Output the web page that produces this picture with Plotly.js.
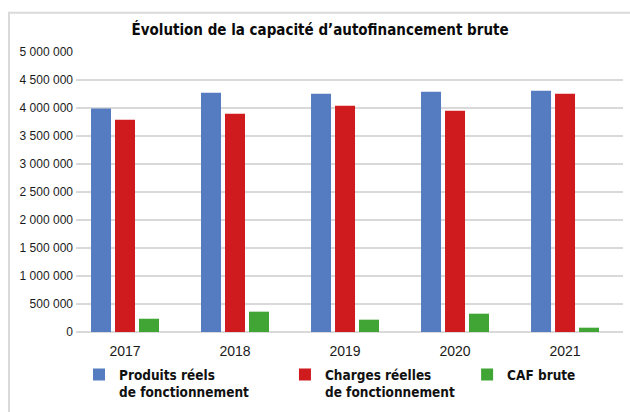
<!DOCTYPE html>
<html>
<head>
<meta charset="utf-8">
<script src="https://cdn.plot.ly/plotly-3.0.1.min.js"></script>
<style>html,body{margin:0;padding:0;background:#fff;}#chart{width:630px;height:412px;}</style>
</head>
<body>
<div id="chart"></div>
<script>
const years = ["2017", "2018", "2019", "2020", "2021"];
const produits = [3990000, 4273000, 4255000, 4291000, 4309000];
const charges = [3791000, 3898000, 4041000, 3952000, 4255000];
const caf = [237000, 363000, 220000, 327000, 77000];
const seriesNames = ["Produits réels<br>de fonctionnement", "Charges réelles<br>de fonctionnement", "CAF brute"];
const yTicks = [0, 500000, 1000000, 1500000, 2000000, 2500000, 3000000, 3500000, 4000000, 4500000, 5000000];

const colors = ["#557cc0", "#cf1a1e", "#41a535"];
const condFamily = "'Liberation Sans Narrow', 'DejaVu Sans Condensed', 'Liberation Sans', sans-serif";
const legendFont = {family: condFamily, size: 13.5, color: "#111", weight: "bold", stretch: "condensed"};

const traces = [
  {type: "bar", x: years, y: produits, name: seriesNames[0], marker: {color: colors[0]}, legend: "legend", hoverinfo: "y"},
  {type: "bar", x: years, y: charges, name: seriesNames[1], marker: {color: colors[1]}, legend: "legend2", hoverinfo: "y"},
  {type: "bar", x: years, y: caf, name: seriesNames[2], marker: {color: colors[2]}, legend: "legend3", hoverinfo: "y"}
];

const legendBase = {orientation: "h", xanchor: "left", yanchor: "top", y: -0.097, valign: "top",
  font: legendFont, bgcolor: "rgba(0,0,0,0)", borderwidth: 0, tracegroupgap: 0};

const layout = {
  width: 630, height: 412,
  margin: {l: 76, r: 7, t: 52, b: 80, pad: 0, autoexpand: false},
  paper_bgcolor: "#ffffff", plot_bgcolor: "#ffffff",
  separators: ", ",
  barmode: "group", bargap: 0.3455, bargroupgap: 0.1667,
  title: {text: "Évolution de la capacité d’autofinancement brute",
    font: {family: condFamily, size: 15, color: "#0a0a0a", weight: "bold", stretch: "condensed"},
    x: 0.508, xanchor: "center", xref: "container", y: 0.927, yanchor: "middle", yref: "container"},
  xaxis: {type: "category", range: [-0.4455, 4.527], showgrid: false, zeroline: false, showline: false,
    ticks: "", ticklabelstandoff: 9, tickfont: {family: "Liberation Sans", size: 14, color: "#1a1a1a"}, fixedrange: true},
  yaxis: {range: [0, 5000000], tickvals: yTicks, tickformat: ",d", showgrid: true, gridcolor: "#d9d9d9",
    gridwidth: 1.3, zeroline: true, zerolinecolor: "#d9d9d9", zerolinewidth: 1.3, showline: false, ticks: "",
    ticklabelstandoff: 2, tickfont: {family: "Liberation Sans", size: 12, color: "#1a1a1a"}, fixedrange: true},
  showlegend: true,
  legend: Object.assign({}, legendBase, {x: 0.0055}),
  legend2: Object.assign({}, legendBase, {x: 0.382}),
  legend3: Object.assign({}, legendBase, {x: 0.715}),
  shapes: [
    {type: "rect", xref: "paper", yref: "paper", x0: -0.1225, x1: 1.2, y0: -0.4, y1: 1.1405,
      line: {color: "#dadada", width: 2}, fillcolor: "rgba(0,0,0,0)", layer: "below"}
  ]
};

Plotly.newPlot("chart", traces, layout, {displayModeBar: false, staticPlot: true});
</script>
</body>
</html>
